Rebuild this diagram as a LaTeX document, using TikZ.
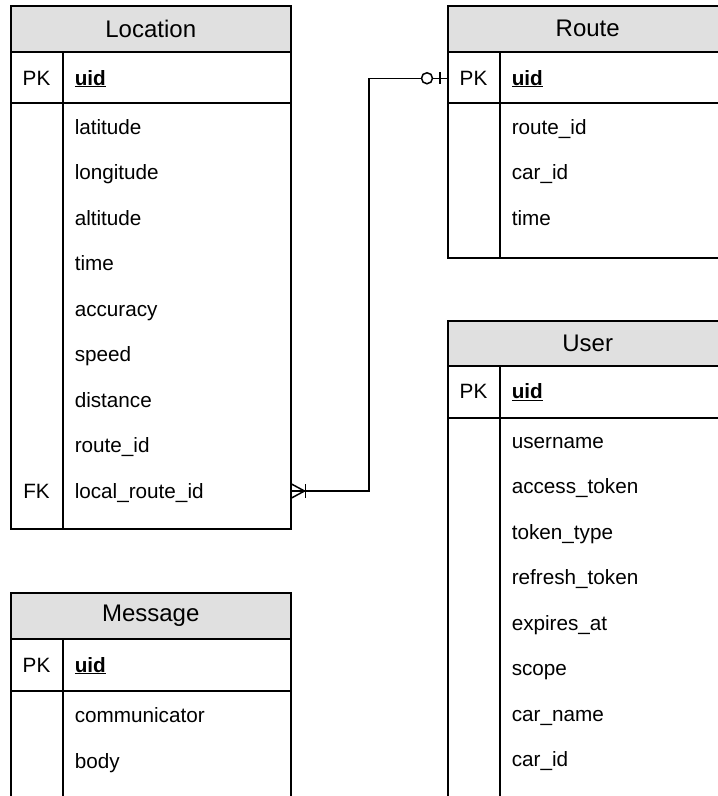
\documentclass[tikz,border=0pt]{standalone}
\usepackage{fontspec}
\setmainfont{Liberation Sans}
\definecolor{hdrgray}{HTML}{E0E0E0}
\begin{document}
\begin{tikzpicture}[x=1pt,y=-1pt,line width=1.5pt,
  hdr/.style={draw, fill=hdrgray, minimum width=280pt, minimum height=46pt,
    anchor=north west, inner sep=0pt, font=\fontsize{24}{28}\selectfont},
  keyrow/.style={draw, minimum width=280pt, minimum height=51pt,
    anchor=north west, inner sep=0pt},
  bodybox/.style={draw, minimum width=280pt, anchor=north west, inner sep=0pt},
  field/.style={anchor=base west, inner sep=0pt, font=\fontsize{20.7}{24}\selectfont},
  keytag/.style={anchor=base, inner sep=0pt, font=\fontsize{20.7}{24}\selectfont},
  rel/.style={draw, line width=1.5pt}
]
\useasboundingbox (0,0) rectangle (718,796);
\clip (0,0) rectangle (718,796);

% ---------- Location ----------
\node[bodybox, minimum height=426pt] (loc-body) at (10,102) {};
\node[keyrow] (loc-pk) at (10,51) {};
\node[hdr] (loc-h) at (10,5) {Location};
\draw ([xshift=53pt]loc-pk.north west) -- ([xshift=53pt]loc-body.south west);
\node[keytag] (loc-pkt) at (36.5,85) {PK};
\node[field] (loc-uid) at (74,85) {\underline{\textbf{uid}}};
\foreach \t [count=\i] in {latitude,longitude,altitude,time,accuracy,speed,distance,route\_id,local\_route\_id}
  \node[field] (loc-f\i) at (74,{134.3+45.5*(\i-1)}) {\t};
\node[keytag] (loc-fk) at (36.5,498.3) {FK};

% ---------- Route ----------
\node[bodybox, minimum height=155pt] (route-body) at (447,102) {};
\node[keyrow] (route-pk) at (447,51) {};
\node[hdr] (route-h) at (447,5) {Route};
\draw ([xshift=53pt]route-pk.north west) -- ([xshift=53pt]route-body.south west);
\node[keytag] (route-pkt) at (473.5,85) {PK};
\node[field] (route-uid) at (511,85) {\underline{\textbf{uid}}};
\foreach \t [count=\i] in {route\_id,car\_id,time}
  \node[field] (route-f\i) at (511,{134.3+45.5*(\i-1)}) {\t};

% ---------- User ----------
\node[bodybox, minimum height=420pt] (user-body) at (447,417) {};
\node[keyrow, minimum height=52pt] (user-pk) at (447,365) {};
\node[hdr, minimum height=45pt] (user-h) at (447,320) {User};
\draw ([xshift=53pt]user-pk.north west) -- ([xshift=53pt]user-body.south west);
\node[keytag] (user-pkt) at (473.5,398.5) {PK};
\node[field] (user-uid) at (511,398.5) {\underline{\textbf{uid}}};
\foreach \t [count=\i] in {username,access\_token,token\_type,refresh\_token,expires\_at,scope,car\_name,car\_id}
  \node[field] (user-f\i) at (511,{448.3+45.5*(\i-1)}) {\t};

% ---------- Message ----------
\node[bodybox, minimum height=200pt] (msg-body) at (10,690) {};
\node[keyrow, minimum height=52pt] (msg-pk) at (10,638) {};
\node[hdr] (msg-h) at (10,592) {Message};
\draw ([xshift=53pt]msg-pk.north west) -- ([xshift=53pt]msg-body.south west);
\node[keytag] (msg-pkt) at (36.5,672) {PK};
\node[field] (msg-uid) at (74,672) {\underline{\textbf{uid}}};
\foreach \t [count=\i] in {communicator,body}
  \node[field] (msg-f\i) at (74,{722.8+45.5*(\i-1)}) {\t};

% ---------- Relationship Location.local_route_id -> Route.uid ----------
\coordinate (elbow) at (369,0);
\coordinate (pkend) at ([yshift=-1pt]route-pk.west);
\coordinate (fkend) at (loc-body.east |- 0,491);
\draw[rel] (pkend) -- (pkend -| elbow) |- (fkend);
% zero-or-one end
\draw[rel, fill=white] ([xshift=-20pt]pkend) circle (5.5pt);
\draw[rel] ([xshift=-7pt,yshift=6pt]pkend) -- ([xshift=-7pt,yshift=-6pt]pkend);
% many end
\draw[rel] ([yshift=7pt]fkend) -- ([xshift=13pt]fkend) -- ([yshift=-7pt]fkend);
\draw[rel] ([xshift=14pt,yshift=7pt]fkend) -- ([xshift=14pt,yshift=-7pt]fkend);
\end{tikzpicture}
\end{document}
